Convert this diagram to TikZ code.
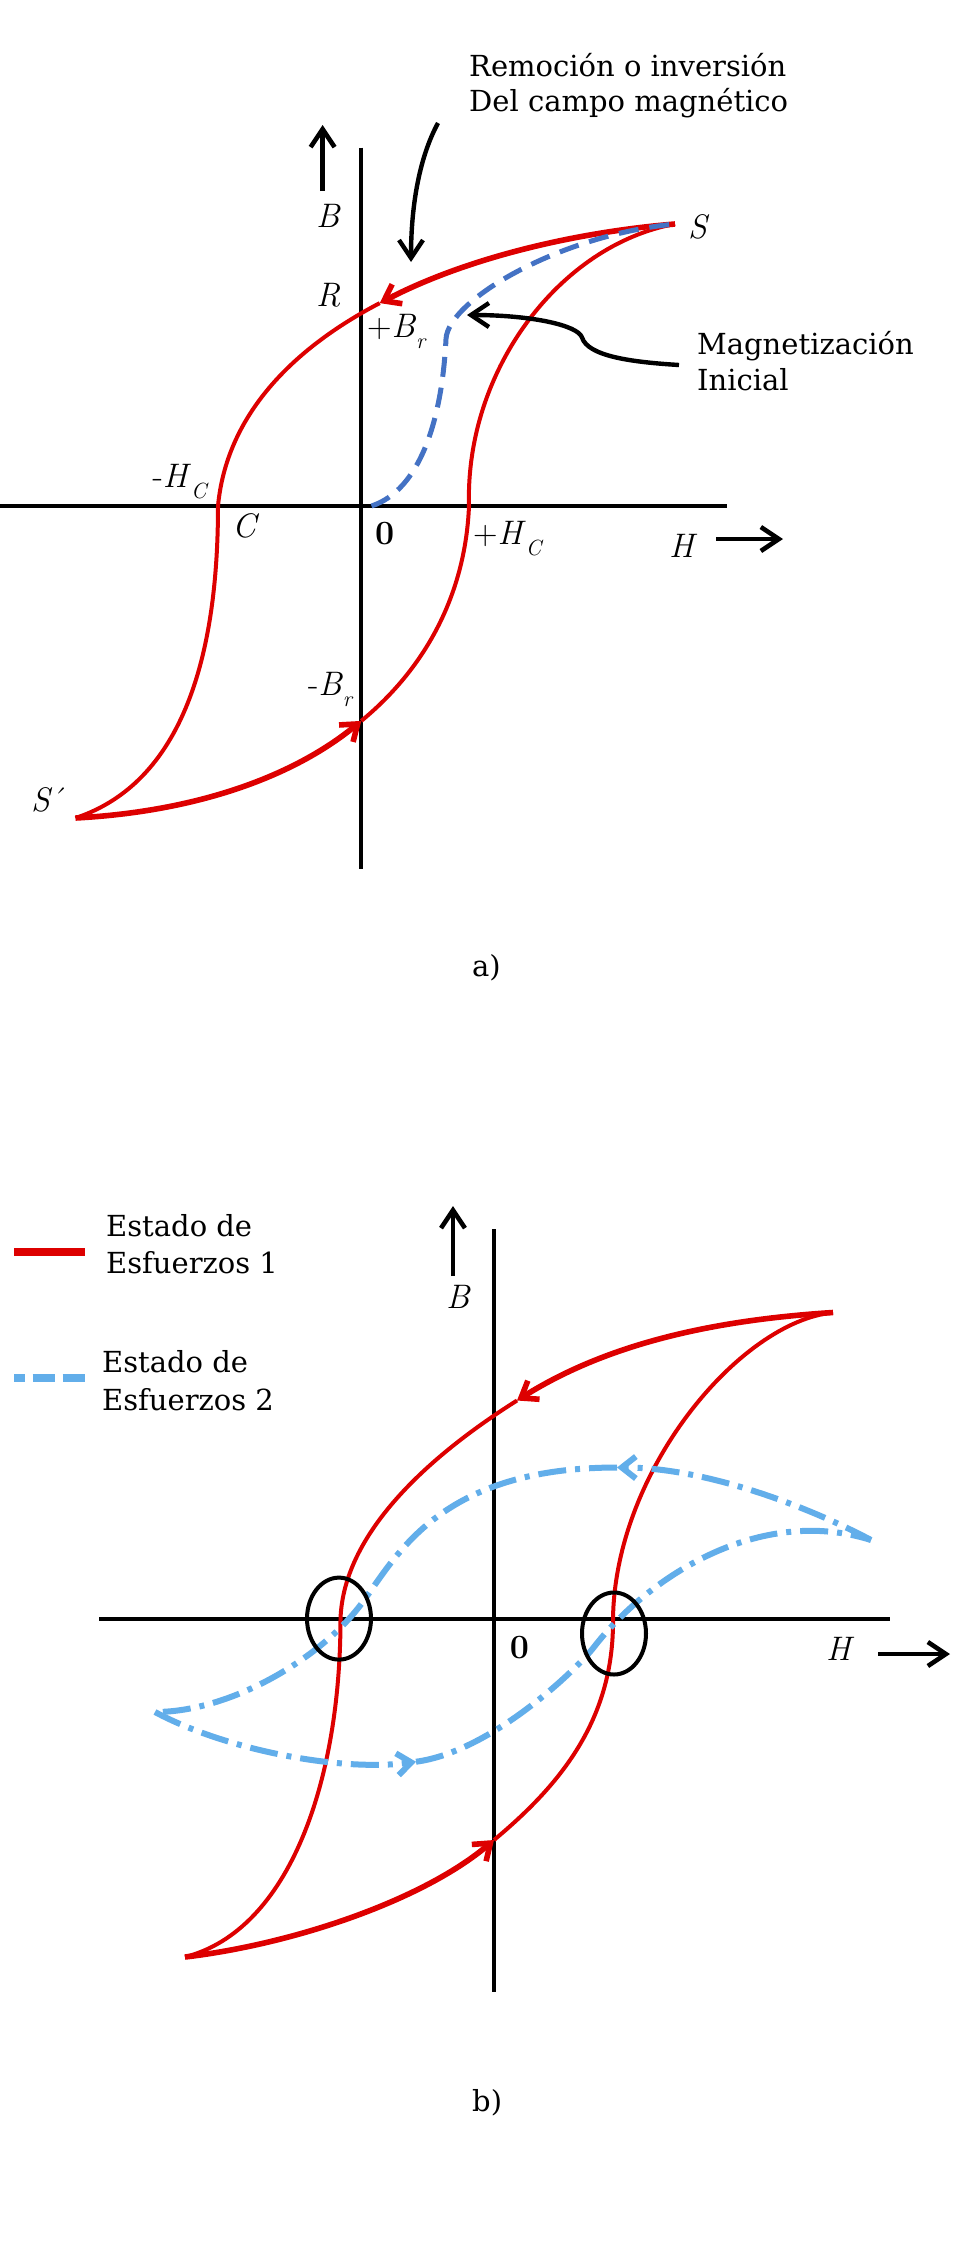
\documentclass[tikz,border=0pt]{standalone}
\usepackage{fontspec}
\newfontfamily\txtfont{DejaVu Serif}
\usetikzlibrary{arrows.meta,shapes.geometric}
\definecolor{redc}{RGB}{221,0,0}
\definecolor{blueA}{RGB}{68,114,196}
\definecolor{blueB}{RGB}{98,174,234}
\newcommand{\sbs}[1]{\raisebox{-11pt}{\fontsize{22}{22}\selectfont\itshape #1}}
\tikzset{
  axis/.style={line width=4.6pt, black},
  redthin/.style={line width=4pt, redc},
  redthick/.style={line width=5.6pt, redc},
  bluedash/.style={line width=5pt, blueA, dash pattern=on 20pt off 11pt},
  bluedd/.style={line width=6pt, blueB, dash pattern=on 28pt off 9pt on 5pt off 9pt},
  redarr/.style={-{Straight Barb[length=15pt,width=22pt]}},
  bluearr/.style={-{Straight Barb[length=14pt,width=22pt]}},
  blkarr/.style={-{Straight Barb[length=18pt,width=24pt]}},
  blkline/.style={line width=4.6pt, black},
  lbl/.style={font=\fontsize{34}{40}\selectfont, inner sep=0pt, anchor=base west},
  txt/.style={font=\txtfont\fontsize{29}{35}\selectfont, inner sep=0pt, anchor=base west},
  circ/.style={draw, ellipse, line width=4pt, black, inner sep=0pt, minimum width=64pt, minimum height=82pt},
}
\begin{document}
\begin{tikzpicture}[x=1pt,y=-1pt]
\useasboundingbox (0,0) rectangle (971,2246);
\fill[white] (0,0) rectangle (971,2246);

% ================= (a) =================
\coordinate (aVt) at (361,147.5);
\coordinate (aVb) at (361,869);
\coordinate (aHl) at (0,506);
\coordinate (aHr) at (727,506);
\draw[axis] (aVt) -- (aVb);
\draw[axis] (aHl) -- (aHr);
\coordinate (aBs) at (322.6,191);
\coordinate (aBe) at (322.6,125);
\draw[blkline, blkarr] (aBs) -- (aBe);
\coordinate (aHs) at (716,539);
\coordinate (aHe) at (783,539);
\draw[blkline, blkarr] (aHs) -- (aHe);

\coordinate (Sa) at (675,224);
\coordinate (Ra) at (379.75,303.1);
\coordinate (Ca) at (218,506);
\coordinate (Spa) at (75.5,818);
\coordinate (Bra) at (361.3,720.9);
\coordinate (Hca) at (469,506);
\coordinate (Oa) at (371.5,506);
\coordinate (Ma) at (446,339);

\draw[redthick, redarr] (Sa) .. controls (577.5,232) and (467.5,257.25) .. (Ra);
\draw[redthin] (Ra) .. controls (292,349) and (226.5,415.5) .. (Ca)
   .. controls (218,640) and (190,780) .. (Spa);
\draw[redthick, redarr] (Spa) .. controls (197.75,811.5) and (294.4,776) .. (Bra);
\draw[redthin] (Bra) .. controls (428.25,665.75) and (465.5,591) .. (Hca);
\draw[redthin] (Sa) .. controls (560,245) and (465,370) .. (Hca);

\draw[bluedash] (Oa) .. controls (420,490) and (442,420) .. (Ma)
   .. controls (448,300) and (560,235) .. (Sa);

\coordinate (remS) at (438,123);
\coordinate (remE) at (411,262);
\draw[blkline, line width=4.4pt, blkarr] (remS) .. controls (418,160) and (411,210) .. (remE);
\coordinate (magS) at (679,365);
\coordinate (magK) at (582,337.5);
\coordinate (magE) at (467,315);
\draw[blkline, line width=4.4pt, blkarr] (magS) .. controls (630,362) and (588,356) .. (magK)
   .. controls (578,325) and (530,315) .. (magE);

\node[lbl] (laB) at (316,227) {\textit{B}};
\node[lbl] (laS) at (688,238) {\textit{S}};
\node[lbl] (laR) at (316,306) {\textit{R}};
\node[lbl] (laBr) at (367,337) {+\textit{B}\sbs{r}};
\node[lbl] (laHcm) at (152.5,487) {-\textit{H}\sbs{C}};
\node[lbl] (laC) at (232,537) {\textit{C}};
\node[lbl] (laO) at (375,544) {\textbf{0}};
\node[lbl] (laHcp) at (473,544) {+\textit{H}\sbs{C}};
\node[lbl] (laH) at (669,557) {\textit{H}};
\node[lbl] (laBrm) at (308,695) {-\textit{B}\sbs{r}};
\node[lbl] (laSp) at (31,811) {\textit{S}\textasciiacute};
\node[txt] (ta) at (472,976) {a)};

\node[txt] (rem1) at (469,76) {Remoción o inversión};
\node[txt] (rem2) at (469,111) {Del campo magnético};
\node[txt] (mag1) at (697,354) {Magnetización};
\node[txt] (mag2) at (697,390) {Inicial};

% ================= (b) =================
\coordinate (lg1a) at (14,1252);
\coordinate (lg1b) at (85,1252);
\draw[line width=7.3pt, redc] (lg1a) -- (lg1b);
\coordinate (lg2a) at (14,1378);
\coordinate (lg2b) at (85,1378);
\draw[line width=7.3pt, blueB, dash pattern=on 11pt off 7.5pt on 22.5pt off 7.5pt on 22.5pt off 20pt] (lg2a) -- (lg2b);
\node[txt] (lgt1) at (106,1236.7) {Estado de};
\node[txt] (lgt2) at (106,1273.3) {Esfuerzos 1};
\node[txt] (lgt3) at (102,1372.7) {Estado de};
\node[txt] (lgt4) at (102,1410) {Esfuerzos 2};

\coordinate (bVt) at (494,1229);
\coordinate (bVb) at (494,1992);
\coordinate (bHl) at (99,1619);
\coordinate (bHr) at (890,1619);
\draw[axis] (bVt) -- (bVb);
\draw[axis] (bHl) -- (bHr);
\coordinate (bBs) at (453,1276);
\coordinate (bBe) at (453,1206);
\draw[blkline, blkarr] (bBs) -- (bBe);
\coordinate (bHs) at (878,1654);
\coordinate (bHe) at (950,1654);
\draw[blkline, blkarr] (bHs) -- (bHe);

\coordinate (Sb) at (833,1312.5);
\coordinate (Ab) at (517,1400.5);
\coordinate (Cb) at (340.5,1619);
\coordinate (Spb) at (185,1957);
\coordinate (Bbr) at (494,1840);
\coordinate (Hcb) at (613,1619);

\draw[redthick, redarr] (Sb) .. controls (723,1319.5) and (612,1340.5) .. (Ab);
\draw[redthin] (Ab) .. controls (437,1451) and (343.5,1529) .. (Cb)
   .. controls (340.5,1780) and (290,1930) .. (Spb);
\draw[redthick, redarr] (Spb) .. controls (295,1944) and (424,1899.6) .. (Bbr);
\draw[redthin] (Bbr) .. controls (560,1785) and (614,1720) .. (Hcb);
\draw[redthin] (Sb) .. controls (740,1322) and (615,1470) .. (Hcb);

\coordinate (Rb) at (871,1540);
\coordinate (Ub) at (617,1467.5);
\coordinate (Mb) at (362,1603);
\coordinate (Lb) at (155,1712);
\coordinate (Db) at (416,1761.7);
\coordinate (Nb) at (594,1647);
\draw[bluedd, bluearr] (Rb) .. controls (811,1508) and (707,1467.5) .. (Ub);
\draw[bluedd] (Ub) .. controls (440,1467.5) and (397.4,1555) .. (Mb)
   .. controls (320.7,1659) and (230,1712) .. (Lb);
\draw[bluedd, bluearr] (Lb) .. controls (225,1749.6) and (340,1772) .. (Db);
\draw[bluedd] (Db) .. controls (490,1752) and (575.7,1670.7) .. (Nb)
   .. controls (649,1576) and (760,1505) .. (Rb);

\node[circ] (eL) at (339,1618.6) {};
\node[circ] (eR) at (614,1633.5) {};

\node[lbl] (lbB) at (446,1308) {\textit{B}};
\node[lbl] (lbO) at (509.6,1658.6) {\textbf{0}};
\node[lbl] (lbH) at (826,1660) {\textit{H}};
\node[txt] (tb) at (472,2111) {b)};
\end{tikzpicture}
\end{document}
